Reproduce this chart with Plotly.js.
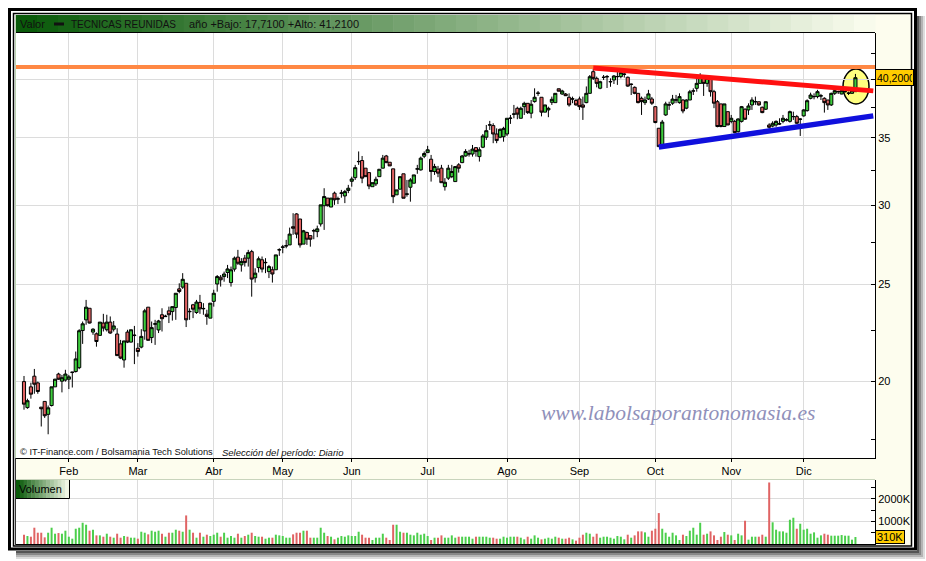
<!DOCTYPE html>
<html><head><meta charset="utf-8">
<script src="https://cdn.plot.ly/plotly-3.0.1.min.js"></script>
<style>html,body{margin:0;padding:0;background:#fff}#chart{width:926px;height:561px}</style>
</head><body><div id="chart"></div>
<script>
// ---------- DATA ----------
const ticker = 'TECNICAS REUNIDAS';
const yearLow = 17.71, yearHigh = 41.21, lastClose = 40.20, lastVolumeK = 310;
const firstDay = '2009-01-14', lastDay = '2009-12-22';
const holidays = ['2009-04-10', '2009-04-13', '2009-05-01'];
const monthLabels = ['Feb','Mar','Abr','May','Jun','Jul','Ago','Sep','Oct','Nov','Dic'];
const priceTicks = [20, 25, 30, 35, 40];
const priceTickText = ['20', '25', '30', '35', ''];   // 40 sits under the last-price box
const priceMinor = [17.5, 22.5, 27.5, 32.5, 37.5, 42.5];
const volTicks = [1000, 2000];
const volMinor = [500, 1500, 2500];
const resistance = {start: '2009-09-07', from: 41.11, to: 39.00};
const support = {start: '2009-10-02', from: 34.28, to: 36.82};

const openP = [19.99,18.83,19.75,20.24,19.93,18.85,19.10,18.54,18.92,19.75,20.34,20.01,20.06,20.10,20.41,20.46,20.64,22.48,23.04,23.66,
22.40,22.31,22.23,22.87,22.52,22.92,22.55,22.30,21.80,21.01,22.40,21.89,22.22,21.58,21.64,22.46,23.72,22.12,22.81,22.51,
23.31,23.21,23.52,23.48,23.70,24.74,24.84,25.06,23.47,23.85,23.43,23.98,23.63,23.34,23.13,24.04,25.02,25.41,25.45,25.69,
25.10,25.89,26.61,26.14,26.55,26.55,26.95,25.38,25.98,26.45,26.27,25.74,25.85,25.85,27.05,27.22,27.30,27.37,28.54,29.39,
29.05,27.42,28.16,27.96,28.26,28.22,28.72,29.95,30.48,29.86,30.83,30.41,30.82,30.63,31.02,31.68,31.95,33.14,33.23,32.65,
32.32,31.29,31.49,32.02,32.65,33.58,33.10,32.60,30.71,31.11,32.23,30.75,31.25,31.54,32.58,32.52,33.56,33.84,33.33,32.40,
32.58,32.65,31.29,31.91,32.02,31.66,32.90,33.07,33.58,33.73,33.73,34.23,33.53,34.26,35.06,36.05,36.01,35.32,35.06,35.10,
35.32,36.61,36.96,37.47,36.62,37.61,37.90,37.05,38.05,38.78,38.43,37.14,37.33,37.99,37.96,39.19,38.72,38.72,38.43,38.27,
38.15,38.28,37.76,37.96,38.78,40.76,40.14,39.24,40.22,40.28,39.82,39.99,40.29,40.30,40.51,40.24,39.58,39.32,38.78,38.34,
37.96,38.28,38.28,37.61,35.79,34.45,36.90,37.75,37.91,38.18,37.96,38.19,37.48,38.19,38.98,39.23,39.68,40.24,39.68,40.05,
38.93,38.04,37.85,35.93,37.18,36.36,36.36,35.51,36.36,37.39,37.33,37.76,38.03,38.04,37.56,37.39,36.06,35.97,36.06,36.14,
36.36,36.47,36.36,36.75,36.76,36.53,36.82,37.27,38.34,38.48,38.49,38.54,38.34,38.19,37.76,38.78,38.92,38.72,38.92,38.78,
38.78,38.93];
const highP = [20.25,19.22,19.94,20.58,19.99,18.85,19.10,18.92,19.75,20.12,20.40,20.30,20.54,20.30,20.43,21.42,22.55,22.95,24.12,23.66,
22.60,22.38,22.92,23.36,23.31,23.22,22.98,22.60,22.00,21.95,22.52,22.52,22.72,21.84,22.55,23.63,23.72,22.95,23.04,23.04,
23.66,23.31,23.75,23.75,24.49,25.06,25.65,25.06,23.66,23.90,24.12,24.40,23.94,23.58,23.94,24.69,25.54,25.54,25.74,26.14,
26.04,26.65,27.06,26.55,26.75,27.06,27.06,25.94,26.65,26.65,26.55,26.14,26.04,26.75,27.16,27.37,27.69,28.48,29.44,29.44,
29.05,28.33,28.22,27.96,28.40,28.61,30.01,31.18,30.48,30.48,30.94,30.58,31.06,31.06,31.42,32.02,32.90,33.93,33.58,32.65,
32.32,31.58,32.02,32.57,33.66,33.66,33.10,32.60,31.06,32.02,32.23,31.78,31.91,32.15,32.90,33.53,33.93,34.37,33.66,32.98,
32.82,32.90,31.91,32.90,32.90,32.77,33.03,33.66,34.11,34.06,34.44,34.26,34.26,35.32,36.06,36.40,36.20,35.78,35.78,35.91,
36.62,36.90,37.76,37.61,37.61,38.04,37.90,38.19,39.23,38.99,38.43,37.76,37.61,38.49,38.78,39.19,39.10,38.81,38.78,38.49,
38.30,38.49,38.49,39.40,40.45,41.21,40.30,39.92,40.45,40.45,40.14,40.45,40.73,40.85,40.73,40.30,39.68,39.40,38.78,38.49,
38.49,39.09,38.46,37.61,35.79,36.48,38.04,38.04,38.64,38.64,38.78,38.25,38.25,39.09,39.23,40.30,40.61,40.30,40.20,40.05,
39.09,38.19,37.85,37.85,37.18,36.90,36.48,36.62,37.67,37.47,37.90,38.43,38.49,38.04,37.61,38.04,36.20,36.37,36.44,36.62,
36.90,36.62,37.27,37.18,36.90,36.62,37.39,38.25,38.84,38.78,39.09,38.73,38.43,38.19,38.84,39.14,39.02,39.05,39.00,38.93,
39.05,40.55];
const lowP = [18.74,18.78,19.22,19.44,19.44,18.03,18.39,17.71,18.88,19.75,20.07,19.50,19.99,19.65,19.72,20.41,20.57,21.80,22.78,22.85,
22.26,21.66,22.23,22.43,22.43,22.31,22.43,21.21,21.05,20.64,21.84,21.87,20.81,21.17,21.58,22.01,21.98,21.84,21.75,22.35,
22.43,23.20,22.87,23.00,23.04,24.49,24.74,22.66,23.04,23.13,23.36,23.36,23.31,22.78,23.13,23.75,24.58,24.87,25.15,25.36,
24.87,25.74,26.14,25.74,26.04,26.04,24.30,25.10,25.69,25.69,25.65,25.36,25.10,25.85,26.69,26.85,27.16,27.37,28.01,27.79,
27.20,27.42,27.37,27.26,27.73,27.86,28.55,28.33,29.90,29.86,30.01,30.06,30.51,30.13,30.83,31.29,31.78,32.90,31.54,32.02,
31.11,31.29,31.34,32.02,32.65,33.03,32.82,30.13,30.71,31.11,30.47,30.58,30.23,31.54,32.23,32.47,33.41,33.84,31.66,32.15,
31.98,31.58,31.01,31.78,31.91,31.66,32.32,33.03,33.53,33.53,33.53,33.53,33.15,34.19,34.84,35.65,34.58,34.58,34.98,34.70,
35.16,36.15,36.62,36.54,36.62,36.90,36.98,36.62,37.96,38.55,36.78,37.14,36.71,37.76,37.96,38.97,38.65,38.54,37.61,37.91,
37.70,37.33,36.48,37.91,38.78,39.99,39.32,39.15,39.99,39.26,39.37,39.62,39.54,40.14,40.21,39.37,38.63,38.70,37.90,36.90,
37.76,38.19,37.76,36.20,34.28,34.45,36.82,37.33,37.76,37.91,37.87,37.04,37.39,38.19,38.63,38.93,39.68,38.55,39.37,38.49,
37.48,35.87,35.87,35.93,36.06,36.20,35.38,35.43,36.26,36.48,36.90,37.33,37.76,37.70,37.05,37.33,35.76,35.87,35.91,36.06,
36.20,36.36,36.26,36.48,36.15,35.16,36.76,37.18,38.25,38.25,38.34,38.19,37.10,37.33,37.67,38.63,38.72,38.70,38.85,38.63,
38.75,38.93];
const closeP = [18.98,19.13,19.42,19.87,19.54,18.78,18.48,18.82,19.75,20.10,20.10,20.17,20.34,20.21,20.43,21.06,22.47,22.83,23.72,22.87,
22.55,21.92,22.92,22.61,22.92,22.35,22.72,21.22,21.10,21.95,21.89,22.52,22.24,21.42,22.18,23.52,21.98,22.63,22.83,22.98,
23.10,23.23,23.31,23.75,24.49,24.59,25.29,23.04,23.49,23.61,24.00,23.63,23.65,23.22,23.94,24.49,25.45,25.26,25.60,25.90,
25.85,26.55,26.24,26.34,26.28,26.89,25.30,25.65,26.51,25.89,26.29,26.04,25.60,26.75,27.07,27.24,27.32,28.06,28.44,28.06,
27.37,28.27,27.73,27.73,28.28,28.40,30.01,30.59,29.95,30.48,30.36,30.43,30.84,30.94,31.18,31.85,32.69,33.16,31.91,32.02,
31.34,31.58,31.83,32.57,33.41,33.07,32.82,30.58,31.06,32.02,30.47,30.77,31.78,32.15,32.60,33.41,33.77,34.06,32.40,32.77,
32.28,31.58,31.61,32.65,32.40,32.77,32.65,33.58,33.93,33.75,34.11,33.92,34.06,35.16,35.59,36.07,35.32,34.79,35.70,35.78,
36.62,36.63,36.98,36.97,37.47,37.90,37.10,37.82,38.43,38.80,37.14,37.76,37.47,38.25,38.78,38.97,38.99,38.57,37.76,38.29,
37.76,37.61,37.56,38.78,40.29,40.14,39.68,39.83,40.24,40.30,39.84,40.36,40.31,40.67,40.53,39.43,39.60,38.78,37.96,38.05,
38.19,38.73,37.91,36.26,34.31,36.30,37.85,37.77,38.27,38.20,38.49,37.24,38.19,38.92,39.00,39.68,40.30,39.68,40.14,38.93,
37.91,35.93,35.93,37.85,36.06,36.62,35.43,36.56,37.61,36.54,37.67,38.19,38.05,37.76,37.10,38.04,35.87,36.20,36.36,36.16,
36.62,36.49,37.18,36.77,36.20,36.55,37.33,38.13,38.63,38.50,38.93,38.56,37.96,37.76,38.78,39.02,38.94,39.02,38.94,38.80,
39.02,40.20];
const volumeK = [413,354,324,723,501,501,295,501,723,457,486,457,590,324,236,678,723,944,855,590,
634,383,383,324,457,324,280,457,280,354,324,280,280,236,545,501,428,590,545,590,
457,324,501,501,634,590,545,1268,634,501,280,501,324,413,354,413,501,324,501,280,
354,280,457,280,354,413,501,354,324,324,236,280,280,413,383,354,280,280,428,501,
501,590,590,280,280,280,723,501,354,324,207,280,354,324,383,354,354,545,413,280,
280,177,280,280,457,280,177,855,855,545,501,501,413,383,501,413,457,354,177,280,
280,383,280,280,383,280,324,
324,324,324,236,324,324,324,324,280,280,236,236,324,280,324,324,324,280,207,324,
236,383,280,207,236,280,236,324,280,236,236,280,207,148,280,413,501,457,324,457,
280,324,324,280,236,354,324,207,413,280,383,560,560,516,324,590,678,1372,678,501,
324,501,383,177,413,354,590,723,413,944,413,457,560,383,177,324,531,413,383,177,
457,383,1032,192,324,324,324,413,324,2730,963,634,560,560,501,1077,1166,678,900,634,
678,457,516,280,383,457,413,369,369,369,398,369,369,192,310];

// ---------- trading calendar ----------
const dates = [];
(function () {
  const d = new Date(firstDay + 'T00:00:00Z');
  const end = new Date(lastDay + 'T00:00:00Z');
  while (d <= end) {
    const s = d.toISOString().slice(0, 10);
    const wd = d.getUTCDay();
    if (wd !== 0 && wd !== 6 && holidays.indexOf(s) < 0) dates.push(s);
    d.setUTCDate(d.getUTCDate() + 1);
  }
})();
const tickDates = [];
for (let i = 1; i < dates.length; i++) if (dates[i].slice(5, 7) !== dates[i - 1].slice(5, 7)) tickDates.push(dates[i]);

// ---------- geometry helpers (page pixels -> paper) ----------
const L = 16, R = 875, T = 33, B = 544;
const px = x => (x - L) / (R - L);
const py = y => (B - y) / (B - T);
const xRange = [-2.32, 246.67];

const green = '#3ccc3c', red = '#e06262';
const volColors = closeP.map((c, i) => c >= openP[i] ? '#4ccf4c' : '#e06464');

const fmt = v => v.toFixed(4).replace('.', ',');

// ---------- shapes ----------
const shapes = [];
function rect(x0, y0, x1, y1, fill, layer, line) {
  shapes.push({type: 'rect', xref: 'paper', yref: 'paper', x0: px(x0), x1: px(x1), y0: py(y1), y1: py(y0),
    fillcolor: fill, line: line || {width: 0}, layer: layer || 'below'});
}
function hline(x0, x1, y, color, w, layer) {
  shapes.push({type: 'line', xref: 'paper', yref: 'paper', x0: px(x0), x1: px(x1), y0: py(y), y1: py(y),
    line: {color: color, width: w}, layer: layer || 'above'});
}
function vline(x, y0, y1, color, w, layer) {
  shapes.push({type: 'line', xref: 'paper', yref: 'paper', x0: px(x), x1: px(x), y0: py(y0), y1: py(y1),
    line: {color: color, width: w}, layer: layer || 'above'});
}
function lerpColor(a, b, t) {
  const pa = [parseInt(a.slice(1,3),16), parseInt(a.slice(3,5),16), parseInt(a.slice(5,7),16)];
  const pb = [parseInt(b.slice(1,3),16), parseInt(b.slice(3,5),16), parseInt(b.slice(5,7),16)];
  return 'rgb(' + pa.map((v, k) => Math.round(v + (pb[k] - v) * t)).join(',') + ')';
}
// drop shadow
[['#555555', 0], ['#888888', 2], ['#b4b4b4', 4], ['#dcdcdc', 6]].forEach(([c, o]) => {
  rect(917 + o, 16, 919 + o, 557, c);
  rect(16, 551 + o, 919 + o, 553 + o, c);
});
// right axis panel and month strip
rect(875, 13, 912, 546, '#fdfdee');
rect(16, 458, 875, 479, '#fdfdee');
hline(16, 875, 479.5, '#c8d4bc', 1);
// header gradient
const nb = 41, hx0 = 16, hx1 = 875;
for (let k = 0; k < nb; k++) {
  const a = hx0 + (hx1 - hx0) * k / nb, b = hx0 + (hx1 - hx0) * (k + 1) / nb;
  rect(a, 15, b + 0.6, 32, lerpColor('#0a5a0a', '#f8fbec', k / (nb - 1)), 'above');
}
hline(16, 875, 32.5, '#000', 1);
rect(54, 22.5, 64, 25.5, '#111', 'above');
// Volumen label box
const nv = 14;
for (let k = 0; k < nv; k++) {
  const a = 16 + 53 * k / nv, b = 16 + 53 * (k + 1) / nv;
  rect(a, 480, b + 0.5, 498, lerpColor('#0a5a0a', '#f0f6e4', k / (nv - 1)), 'above');
}
hline(16, 69.5, 498.5, '#000', 1);
vline(69.5, 480, 498.5, '#000', 1);
// left borders of panels
vline(15.5, 15, 458, '#b9d2b0', 1);
vline(15.5, 458, 545, '#333', 1);
// outer double frame
shapes.push({type: 'rect', xref: 'paper', yref: 'paper', x0: px(9.5), x1: px(915.5), y0: py(549), y1: py(9.5),
  line: {color: '#000', width: 3}, fillcolor: 'rgba(0,0,0,0)', layer: 'above'});
shapes.push({type: 'rect', xref: 'paper', yref: 'paper', x0: px(13.5), x1: px(911.5), y0: py(546), y1: py(13.5),
  line: {color: '#000', width: 1.5}, fillcolor: 'rgba(0,0,0,0)', layer: 'above'});
// highlight ellipse round the last candle
shapes.push({type: 'circle', xref: 'paper', yref: 'paper', x0: px(843), x1: px(869), y0: py(104), y1: py(69),
  fillcolor: '#ffff80', line: {color: '#000', width: 1.5}, layer: 'below'});
// trend lines (data coordinates)
shapes.push({type: 'line', xref: 'paper', yref: 'y', x0: 0, x1: 1, y0: yearHigh, y1: yearHigh,
  line: {color: '#ff8844', width: 4}, layer: 'above'});
shapes.push({type: 'line', xref: 'x', yref: 'y', x0: dates.indexOf(resistance.start), x1: xRange[1] - 0.5,
  y0: resistance.from, y1: resistance.to, line: {color: '#ff1010', width: 5}, layer: 'above'});
shapes.push({type: 'line', xref: 'x', yref: 'y', x0: dates.indexOf(support.start), x1: xRange[1] - 0.5,
  y0: support.from, y1: support.to, line: {color: '#1010dd', width: 5.5}, layer: 'above'});

// ---------- annotations ----------
const F = 'Liberation Sans, Arial, sans-serif';
const ann = [];
function txt(x, y, text, size, extra) {
  ann.push(Object.assign({xref: 'paper', yref: 'paper', x: px(x), y: py(y), text: text, showarrow: false,
    xanchor: 'left', yanchor: 'middle', font: {family: F, size: size, color: '#111'}}, extra || {}));
}
txt(18, 24, 'Valor', 11);
txt(69, 24, ticker, 10);
txt(187, 24, 'año +Bajo: ' + fmt(yearLow) + ' +Alto: ' + fmt(yearHigh), 11);
txt(18, 452, '© IT-Finance.com / Bolsamania Tech Solutions', 9.3);
txt(220, 452, '<i>Selección del período: Diario</i>', 9.5);
txt(17, 489, 'Volumen', 11, {font: {family: F, size: 11, color: '#000'}});
ann.push({xref: 'paper', yref: 'paper', x: px(678), y: py(413), text: '<i>www.labolsaporantonomasia.es</i>',
  showarrow: false, xanchor: 'center', yanchor: 'middle',
  font: {family: 'Liberation Serif, Times New Roman, serif', size: 21.5, color: '#9090ba'}});
ann.push({xref: 'paper', yref: 'y', x: px(875.5), y: Math.log10(lastClose), text: fmt(lastClose),
  showarrow: false, xanchor: 'left', yanchor: 'middle', align: 'left', width: 35, height: 13,
  bgcolor: '#ffcc00', bordercolor: '#000', borderwidth: 1, borderpad: 1,
  font: {family: F, size: 10.5, color: '#000'}});
ann.push({xref: 'paper', yref: 'y2', x: px(875.5), y: lastVolumeK, text: lastVolumeK + 'K',
  showarrow: false, xanchor: 'left', yanchor: 'middle', align: 'left', width: 26, height: 10,
  bgcolor: '#ffcc00', bordercolor: '#000', borderwidth: 1, borderpad: 1,
  font: {family: F, size: 11, color: '#000'}});

// ---------- traces ----------
const traces = [
  {type: 'candlestick', x: dates, open: openP, high: highP, low: lowP, close: closeP,
   xaxis: 'x', yaxis: 'y', hoverinfo: 'skip', whiskerwidth: 0,
   increasing: {line: {color: '#000', width: 1}, fillcolor: green},
   decreasing: {line: {color: '#000', width: 1}, fillcolor: red}},
  {type: 'bar', x: dates, y: volumeK, xaxis: 'x2', yaxis: 'y2', hoverinfo: 'skip',
   marker: {color: volColors, line: {width: 0}}}
];

const gridC = '#dcdcdc';
const layout = {
  width: 926, height: 561, autosize: false,
  margin: {l: L, r: 926 - R, t: T, b: 561 - B, pad: 0},
  paper_bgcolor: '#ffffff', plot_bgcolor: 'rgba(0,0,0,0)',
  font: {family: F, size: 11, color: '#000'},
  showlegend: false, boxgap: 0.1, boxgroupgap: 0, bargap: 0.42,
  xaxis: {type: 'category', range: xRange, domain: [0, 1], anchor: 'y',
    tickmode: 'array', tickvals: tickDates, ticktext: monthLabels,
    ticks: 'outside', ticklen: 3, tickcolor: '#000', showgrid: true, gridcolor: gridC, gridwidth: 1,
    showline: true, linecolor: '#000', linewidth: 1, zeroline: false,
    rangeslider: {visible: false}, fixedrange: true, tickfont: {family: F, size: 11, color: '#000'}},
  xaxis2: {type: 'category', matches: 'x', range: xRange, domain: [0, 1], anchor: 'y2',
    tickmode: 'array', tickvals: tickDates, showticklabels: false, ticks: '',
    showgrid: true, gridcolor: gridC, showline: true, linecolor: '#000', linewidth: 1, zeroline: false,
    rangeslider: {visible: false}, fixedrange: true},
  yaxis: {type: 'log', side: 'right', anchor: 'x', domain: [py(458), 1],
    range: [Math.log10(16.77), Math.log10(44.55)],
    tickmode: 'array', tickvals: priceTicks, ticktext: priceTickText,
    ticks: 'inside', ticklen: 4, tickcolor: '#000',
    minor: {tickmode: 'array', tickvals: priceMinor, ticks: 'inside', ticklen: 4, tickcolor: '#000', showgrid: false},
    showgrid: true, gridcolor: gridC, showline: true, linecolor: '#000', linewidth: 1, zeroline: false,
    fixedrange: true, tickfont: {family: F, size: 11, color: '#000'}},
  yaxis2: {side: 'right', anchor: 'x2', domain: [0, py(480)], range: [0, 2840],
    tickmode: 'array', tickvals: volTicks, ticktext: volTicks.map(v => v + 'K'),
    ticks: 'inside', ticklen: 4, tickcolor: '#000',
    minor: {tickmode: 'array', tickvals: volMinor, ticks: 'inside', ticklen: 4, tickcolor: '#000', showgrid: false},
    showgrid: true, gridcolor: gridC, showline: true, linecolor: '#000', linewidth: 1, zeroline: false,
    fixedrange: true, tickfont: {family: F, size: 11, color: '#000'}},
  shapes: shapes, annotations: ann
};

Plotly.newPlot('chart', traces, layout, {staticPlot: true, displayModeBar: false});
</script>
</body></html>
